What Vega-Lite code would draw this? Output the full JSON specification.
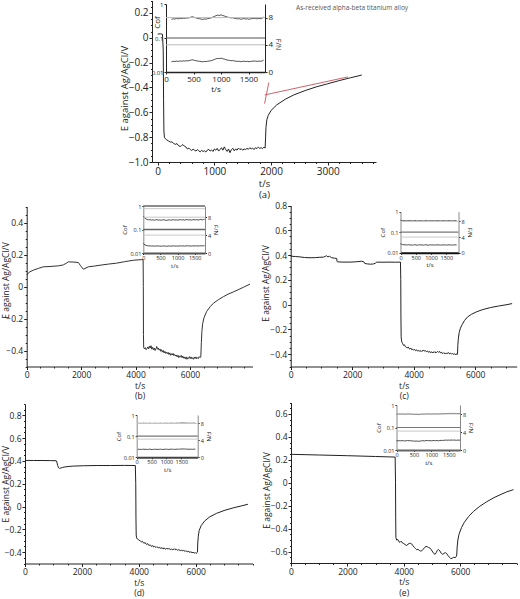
{
"$schema": "https://vega.github.io/schema/vega-lite/v6.json",
"width": 520, "height": 599, "autosize": "none", "padding": 0, "background": "white",
"config": {"view": {"stroke": null}, "font": "Open Sans",
 "axis": {"grid": false, "labelFlush": false, "labelOverlap": false, "labelBound": false, "labelFont": "Open Sans", "titleFont": "Open Sans", "labelColor": "#222", "titleColor": "#222", "domainColor": "#222", "tickColor": "#222", "titleFontWeight": "normal", "tickSize": 3, "labelPadding": 1, "titlePadding": 2, "titleLineHeight": 10.5, "labelFontSize": 8.5, "titleFontSize": 8.5}},
"datasets": {
"a": [{"t":0,"E":0.03},{"t":50,"E":0.032},{"t":85,"E":0.028},{"t":98,"E":-0.1},{"t":104,"E":-0.5},{"t":110,"E":-0.75},{"t":118,"E":-0.8},{"t":135,"E":-0.812},{"t":160,"E":-0.822},{"t":190,"E":-0.83},{"t":220,"E":-0.84},{"t":250,"E":-0.838},{"t":280,"E":-0.85},{"t":310,"E":-0.858},{"t":340,"E":-0.852},{"t":370,"E":-0.87},{"t":400,"E":-0.875},{"t":420,"E":-0.868},{"t":445,"E":-0.86},{"t":470,"E":-0.872},{"t":500,"E":-0.88},{"t":525,"E":-0.895},{"t":550,"E":-0.888},{"t":575,"E":-0.9},{"t":600,"E":-0.907},{"t":625,"E":-0.897},{"t":650,"E":-0.905},{"t":675,"E":-0.912},{"t":700,"E":-0.9},{"t":725,"E":-0.91},{"t":750,"E":-0.918},{"t":775,"E":-0.906},{"t":800,"E":-0.915},{"t":825,"E":-0.91},{"t":850,"E":-0.92},{"t":875,"E":-0.905},{"t":900,"E":-0.898},{"t":925,"E":-0.912},{"t":950,"E":-0.903},{"t":975,"E":-0.915},{"t":1000,"E":-0.895},{"t":1025,"E":-0.905},{"t":1050,"E":-0.89},{"t":1075,"E":-0.912},{"t":1100,"E":-0.9},{"t":1125,"E":-0.885},{"t":1150,"E":-0.905},{"t":1175,"E":-0.878},{"t":1200,"E":-0.9},{"t":1225,"E":-0.915},{"t":1250,"E":-0.895},{"t":1275,"E":-0.925},{"t":1300,"E":-0.9},{"t":1325,"E":-0.89},{"t":1350,"E":-0.91},{"t":1375,"E":-0.895},{"t":1400,"E":-0.905},{"t":1425,"E":-0.888},{"t":1450,"E":-0.9},{"t":1475,"E":-0.893},{"t":1500,"E":-0.905},{"t":1525,"E":-0.895},{"t":1550,"E":-0.9},{"t":1575,"E":-0.89},{"t":1600,"E":-0.898},{"t":1625,"E":-0.885},{"t":1650,"E":-0.895},{"t":1675,"E":-0.888},{"t":1700,"E":-0.9},{"t":1725,"E":-0.885},{"t":1750,"E":-0.892},{"t":1775,"E":-0.88},{"t":1800,"E":-0.89},{"t":1825,"E":-0.885},{"t":1850,"E":-0.892},{"t":1875,"E":-0.88},{"t":1895,"E":-0.888},{"t":1903,"E":-0.8},{"t":1910,"E":-0.72},{"t":1925,"E":-0.66},{"t":1950,"E":-0.625},{"t":2000,"E":-0.585},{"t":2100,"E":-0.54},{"t":2250,"E":-0.495},{"t":2400,"E":-0.46},{"t":2600,"E":-0.425},{"t":2800,"E":-0.395},{"t":3000,"E":-0.37},{"t":3200,"E":-0.345},{"t":3400,"E":-0.322},{"t":3600,"E":-0.3}],
"a_red": [{"seg":1,"t":1887,"E":-0.46},{"seg":1,"t":3357,"E":-0.315},{"seg":2,"t":1885,"E":-0.53},{"seg":2,"t":1960,"E":-0.36}],
"a_note": [{"t":2440,"E":0.24,"label":"As-received alpha-beta titanium alloy"}],
"ia_C": [{"t":100,"C":0.35},{"t":130,"C":0.37},{"t":160,"C":0.36},{"t":190,"C":0.375},{"t":220,"C":0.365},{"t":250,"C":0.38},{"t":280,"C":0.372},{"t":310,"C":0.385},{"t":340,"C":0.378},{"t":370,"C":0.39},{"t":400,"C":0.385},{"t":430,"C":0.4},{"t":460,"C":0.415},{"t":490,"C":0.42},{"t":520,"C":0.4},{"t":550,"C":0.39},{"t":580,"C":0.375},{"t":610,"C":0.368},{"t":640,"C":0.36},{"t":670,"C":0.352},{"t":700,"C":0.365},{"t":730,"C":0.358},{"t":760,"C":0.372},{"t":790,"C":0.38},{"t":820,"C":0.39},{"t":850,"C":0.41},{"t":880,"C":0.43},{"t":910,"C":0.455},{"t":940,"C":0.47},{"t":970,"C":0.462},{"t":1000,"C":0.478},{"t":1030,"C":0.46},{"t":1060,"C":0.445},{"t":1090,"C":0.425},{"t":1120,"C":0.41},{"t":1150,"C":0.402},{"t":1180,"C":0.39},{"t":1210,"C":0.395},{"t":1240,"C":0.38},{"t":1270,"C":0.375},{"t":1300,"C":0.365},{"t":1330,"C":0.37},{"t":1360,"C":0.358},{"t":1390,"C":0.365},{"t":1420,"C":0.372},{"t":1450,"C":0.36},{"t":1480,"C":0.368},{"t":1510,"C":0.355},{"t":1540,"C":0.365},{"t":1570,"C":0.372},{"t":1600,"C":0.38},{"t":1630,"C":0.372},{"t":1660,"C":0.368},{"t":1690,"C":0.375},{"t":1720,"C":0.37},{"t":1750,"C":0.385},{"t":1775,"C":0.41}],
"ia_F": [{"t":100,"F":1.5},{"t":130,"F":1.58},{"t":160,"F":1.54},{"t":190,"F":1.6},{"t":220,"F":1.56},{"t":250,"F":1.62},{"t":280,"F":1.58},{"t":310,"F":1.64},{"t":340,"F":1.6},{"t":370,"F":1.66},{"t":400,"F":1.63},{"t":430,"F":1.7},{"t":460,"F":1.76},{"t":490,"F":1.79},{"t":520,"F":1.7},{"t":550,"F":1.66},{"t":580,"F":1.6},{"t":610,"F":1.57},{"t":640,"F":1.54},{"t":670,"F":1.5},{"t":700,"F":1.56},{"t":730,"F":1.53},{"t":760,"F":1.59},{"t":790,"F":1.62},{"t":820,"F":1.66},{"t":850,"F":1.74},{"t":880,"F":1.83},{"t":910,"F":1.94},{"t":940,"F":2.0},{"t":970,"F":1.97},{"t":1000,"F":2.04},{"t":1030,"F":1.96},{"t":1060,"F":1.9},{"t":1090,"F":1.81},{"t":1120,"F":1.75},{"t":1150,"F":1.71},{"t":1180,"F":1.66},{"t":1210,"F":1.68},{"t":1240,"F":1.62},{"t":1270,"F":1.6},{"t":1300,"F":1.56},{"t":1330,"F":1.58},{"t":1360,"F":1.52},{"t":1390,"F":1.56},{"t":1420,"F":1.59},{"t":1450,"F":1.54},{"t":1480,"F":1.57},{"t":1510,"F":1.51},{"t":1540,"F":1.56},{"t":1570,"F":1.59},{"t":1600,"F":1.62},{"t":1630,"F":1.59},{"t":1660,"F":1.57},{"t":1690,"F":1.6},{"t":1720,"F":1.58},{"t":1750,"F":1.64},{"t":1775,"F":1.75}],
"ga_C": [{"g":1,"t":0,"C":0.1},{"g":1,"t":1800,"C":0.1}],
"ga_F": [{"g":1,"t":0,"F":4},{"g":1,"t":1800,"F":4},{"g":2,"t":0,"F":8},{"g":2,"t":1800,"F":8}],
"b": [{"t":0,"E":0.071},{"t":60,"E":0.085},{"t":121,"E":0.092},{"t":243,"E":0.102},{"t":426,"E":0.113},{"t":610,"E":0.123},{"t":857,"E":0.125},{"t":1000,"E":0.127},{"t":1162,"E":0.129},{"t":1346,"E":0.135},{"t":1450,"E":0.145},{"t":1530,"E":0.154},{"t":1700,"E":0.153},{"t":1897,"E":0.15},{"t":1980,"E":0.13},{"t":2081,"E":0.108},{"t":2265,"E":0.123},{"t":2500,"E":0.128},{"t":2695,"E":0.133},{"t":3000,"E":0.14},{"t":3309,"E":0.146},{"t":3600,"E":0.155},{"t":3919,"E":0.164},{"t":4228,"E":0.168},{"t":4280,"E":0.168},{"t":4287,"E":0.0},{"t":4292,"E":-0.3},{"t":4300,"E":-0.38},{"t":4330,"E":-0.39},{"t":4360,"E":-0.382},{"t":4390,"E":-0.395},{"t":4420,"E":-0.388},{"t":4450,"E":-0.378},{"t":4480,"E":-0.39},{"t":4510,"E":-0.372},{"t":4540,"E":-0.385},{"t":4570,"E":-0.37},{"t":4600,"E":-0.392},{"t":4630,"E":-0.38},{"t":4660,"E":-0.395},{"t":4690,"E":-0.385},{"t":4720,"E":-0.4},{"t":4750,"E":-0.39},{"t":4780,"E":-0.375},{"t":4810,"E":-0.392},{"t":4840,"E":-0.385},{"t":4870,"E":-0.398},{"t":4900,"E":-0.39},{"t":4930,"E":-0.405},{"t":4960,"E":-0.395},{"t":4990,"E":-0.41},{"t":5020,"E":-0.4},{"t":5050,"E":-0.415},{"t":5080,"E":-0.405},{"t":5110,"E":-0.418},{"t":5140,"E":-0.41},{"t":5170,"E":-0.42},{"t":5200,"E":-0.412},{"t":5230,"E":-0.425},{"t":5260,"E":-0.415},{"t":5290,"E":-0.43},{"t":5320,"E":-0.42},{"t":5350,"E":-0.428},{"t":5380,"E":-0.418},{"t":5410,"E":-0.432},{"t":5440,"E":-0.425},{"t":5470,"E":-0.435},{"t":5500,"E":-0.428},{"t":5530,"E":-0.44},{"t":5560,"E":-0.43},{"t":5590,"E":-0.445},{"t":5620,"E":-0.435},{"t":5650,"E":-0.44},{"t":5680,"E":-0.43},{"t":5710,"E":-0.445},{"t":5740,"E":-0.435},{"t":5770,"E":-0.448},{"t":5800,"E":-0.44},{"t":5830,"E":-0.452},{"t":5860,"E":-0.44},{"t":5890,"E":-0.455},{"t":5920,"E":-0.445},{"t":5950,"E":-0.45},{"t":5980,"E":-0.438},{"t":6010,"E":-0.45},{"t":6040,"E":-0.44},{"t":6070,"E":-0.452},{"t":6100,"E":-0.445},{"t":6130,"E":-0.455},{"t":6160,"E":-0.442},{"t":6190,"E":-0.45},{"t":6220,"E":-0.44},{"t":6250,"E":-0.452},{"t":6280,"E":-0.445},{"t":6310,"E":-0.45},{"t":6340,"E":-0.438},{"t":6370,"E":-0.445},{"t":6400,"E":-0.44},{"t":6420,"E":-0.35},{"t":6440,"E":-0.28},{"t":6470,"E":-0.23},{"t":6518,"E":-0.195},{"t":6618,"E":-0.155},{"t":6750,"E":-0.125},{"t":6860,"E":-0.105},{"t":7050,"E":-0.082},{"t":7228,"E":-0.064},{"t":7400,"E":-0.048},{"t":7596,"E":-0.034},{"t":7800,"E":-0.018},{"t":7963,"E":-0.005},{"t":8209,"E":0.015}],
"ib_C": [{"t":0,"C":0.37},{"t":20,"C":0.34},{"t":50,"C":0.3},{"t":80,"C":0.28},{"t":120,"C":0.265},{"t":160,"C":0.258},{"t":200,"C":0.262},{"t":240,"C":0.252},{"t":280,"C":0.258},{"t":320,"C":0.25},{"t":360,"C":0.256},{"t":400,"C":0.262},{"t":440,"C":0.25},{"t":480,"C":0.255},{"t":520,"C":0.248},{"t":560,"C":0.256},{"t":600,"C":0.26},{"t":640,"C":0.25},{"t":680,"C":0.245},{"t":720,"C":0.252},{"t":760,"C":0.258},{"t":800,"C":0.25},{"t":840,"C":0.255},{"t":880,"C":0.262},{"t":920,"C":0.252},{"t":960,"C":0.258},{"t":1000,"C":0.25},{"t":1040,"C":0.256},{"t":1080,"C":0.262},{"t":1120,"C":0.255},{"t":1160,"C":0.26},{"t":1200,"C":0.252},{"t":1240,"C":0.258},{"t":1280,"C":0.265},{"t":1320,"C":0.255},{"t":1360,"C":0.26},{"t":1400,"C":0.252},{"t":1440,"C":0.258},{"t":1480,"C":0.264},{"t":1520,"C":0.256},{"t":1560,"C":0.262},{"t":1600,"C":0.255},{"t":1640,"C":0.26},{"t":1680,"C":0.268},{"t":1720,"C":0.258},{"t":1760,"C":0.265},{"t":1790,"C":0.27}],
"ib_F": [{"t":0,"F":2.15},{"t":20,"F":1.98},{"t":50,"F":1.82},{"t":80,"F":1.7},{"t":120,"F":1.62},{"t":160,"F":1.58},{"t":200,"F":1.6},{"t":240,"F":1.54},{"t":280,"F":1.58},{"t":320,"F":1.52},{"t":360,"F":1.56},{"t":400,"F":1.6},{"t":440,"F":1.53},{"t":480,"F":1.56},{"t":520,"F":1.51},{"t":560,"F":1.56},{"t":600,"F":1.59},{"t":640,"F":1.53},{"t":680,"F":1.5},{"t":720,"F":1.54},{"t":760,"F":1.58},{"t":800,"F":1.53},{"t":840,"F":1.56},{"t":880,"F":1.6},{"t":920,"F":1.54},{"t":960,"F":1.58},{"t":1000,"F":1.53},{"t":1040,"F":1.57},{"t":1080,"F":1.6},{"t":1120,"F":1.56},{"t":1160,"F":1.59},{"t":1200,"F":1.54},{"t":1240,"F":1.58},{"t":1280,"F":1.62},{"t":1320,"F":1.56},{"t":1360,"F":1.59},{"t":1400,"F":1.54},{"t":1440,"F":1.58},{"t":1480,"F":1.61},{"t":1520,"F":1.56},{"t":1560,"F":1.6},{"t":1600,"F":1.56},{"t":1640,"F":1.59},{"t":1680,"F":1.63},{"t":1720,"F":1.58},{"t":1760,"F":1.62},{"t":1790,"F":1.64}],
"gb_C": [{"g":1,"t":0,"C":1},{"g":1,"t":1800,"C":1},{"g":2,"t":0,"C":0.1},{"g":2,"t":1800,"C":0.1}],
"gb_F": [{"g":1,"t":0,"F":4},{"g":1,"t":1800,"F":4},{"g":2,"t":0,"F":8},{"g":2,"t":1800,"F":8},{"g":3,"t":0,"F":9.9},{"g":3,"t":1800,"F":9.9}],
"c": [{"t":0,"E":0.391},{"t":150,"E":0.388},{"t":300,"E":0.385},{"t":450,"E":0.38},{"t":630,"E":0.378},{"t":800,"E":0.379},{"t":950,"E":0.382},{"t":1062,"E":0.383},{"t":1130,"E":0.39},{"t":1172,"E":0.394},{"t":1210,"E":0.385},{"t":1260,"E":0.39},{"t":1335,"E":0.378},{"t":1420,"E":0.375},{"t":1498,"E":0.372},{"t":1505,"E":0.35},{"t":1520,"E":0.345},{"t":1700,"E":0.343},{"t":1932,"E":0.343},{"t":2100,"E":0.345},{"t":2312,"E":0.35},{"t":2380,"E":0.345},{"t":2410,"E":0.332},{"t":2500,"E":0.328},{"t":2600,"E":0.326},{"t":2690,"E":0.328},{"t":2760,"E":0.335},{"t":2800,"E":0.343},{"t":3000,"E":0.342},{"t":3200,"E":0.343},{"t":3400,"E":0.342},{"t":3570,"E":0.343},{"t":3580,"E":0.2},{"t":3585,"E":-0.1},{"t":3592,"E":-0.26},{"t":3610,"E":-0.3},{"t":3640,"E":-0.315},{"t":3670,"E":-0.33},{"t":3700,"E":-0.325},{"t":3730,"E":-0.34},{"t":3760,"E":-0.345},{"t":3790,"E":-0.35},{"t":3820,"E":-0.342},{"t":3850,"E":-0.355},{"t":3880,"E":-0.36},{"t":3910,"E":-0.352},{"t":3940,"E":-0.365},{"t":3970,"E":-0.36},{"t":4000,"E":-0.368},{"t":4030,"E":-0.362},{"t":4060,"E":-0.372},{"t":4090,"E":-0.365},{"t":4120,"E":-0.375},{"t":4150,"E":-0.37},{"t":4180,"E":-0.378},{"t":4210,"E":-0.37},{"t":4240,"E":-0.38},{"t":4270,"E":-0.372},{"t":4300,"E":-0.375},{"t":4330,"E":-0.368},{"t":4360,"E":-0.378},{"t":4390,"E":-0.372},{"t":4420,"E":-0.38},{"t":4450,"E":-0.375},{"t":4480,"E":-0.385},{"t":4510,"E":-0.378},{"t":4540,"E":-0.388},{"t":4570,"E":-0.38},{"t":4600,"E":-0.39},{"t":4630,"E":-0.382},{"t":4660,"E":-0.388},{"t":4690,"E":-0.38},{"t":4720,"E":-0.39},{"t":4750,"E":-0.385},{"t":4780,"E":-0.378},{"t":4810,"E":-0.386},{"t":4840,"E":-0.378},{"t":4870,"E":-0.39},{"t":4900,"E":-0.385},{"t":4930,"E":-0.395},{"t":4960,"E":-0.388},{"t":4990,"E":-0.396},{"t":5020,"E":-0.39},{"t":5050,"E":-0.398},{"t":5080,"E":-0.39},{"t":5110,"E":-0.395},{"t":5140,"E":-0.388},{"t":5170,"E":-0.398},{"t":5200,"E":-0.392},{"t":5230,"E":-0.4},{"t":5260,"E":-0.395},{"t":5290,"E":-0.402},{"t":5320,"E":-0.395},{"t":5350,"E":-0.405},{"t":5380,"E":-0.398},{"t":5410,"E":-0.405},{"t":5425,"E":-0.4},{"t":5435,"E":-0.33},{"t":5450,"E":-0.28},{"t":5480,"E":-0.225},{"t":5520,"E":-0.19},{"t":5580,"E":-0.16},{"t":5650,"E":-0.13},{"t":5750,"E":-0.1},{"t":5880,"E":-0.078},{"t":6050,"E":-0.058},{"t":6250,"E":-0.04},{"t":6500,"E":-0.024},{"t":6750,"E":-0.012},{"t":7000,"E":-0.002},{"t":7200,"E":0.008}],
"ic_C": [{"t":0,"C":0.39},{"t":30,"C":0.375},{"t":70,"C":0.365},{"t":110,"C":0.36},{"t":150,"C":0.368},{"t":190,"C":0.356},{"t":230,"C":0.362},{"t":270,"C":0.37},{"t":310,"C":0.358},{"t":350,"C":0.364},{"t":390,"C":0.355},{"t":430,"C":0.362},{"t":470,"C":0.368},{"t":510,"C":0.358},{"t":550,"C":0.352},{"t":590,"C":0.36},{"t":630,"C":0.366},{"t":670,"C":0.356},{"t":710,"C":0.362},{"t":750,"C":0.354},{"t":790,"C":0.36},{"t":830,"C":0.367},{"t":870,"C":0.358},{"t":910,"C":0.352},{"t":950,"C":0.36},{"t":990,"C":0.365},{"t":1030,"C":0.356},{"t":1070,"C":0.362},{"t":1110,"C":0.355},{"t":1150,"C":0.36},{"t":1190,"C":0.366},{"t":1230,"C":0.358},{"t":1270,"C":0.362},{"t":1310,"C":0.354},{"t":1350,"C":0.36},{"t":1390,"C":0.364},{"t":1430,"C":0.356},{"t":1470,"C":0.362},{"t":1510,"C":0.355},{"t":1550,"C":0.36},{"t":1590,"C":0.366},{"t":1630,"C":0.358},{"t":1670,"C":0.362},{"t":1710,"C":0.355},{"t":1750,"C":0.36},{"t":1790,"C":0.364},{"t":1840,"C":0.36}],
"ic_F": [{"t":0,"F":2.3},{"t":30,"F":2.18},{"t":70,"F":2.08},{"t":110,"F":2.02},{"t":150,"F":2.05},{"t":190,"F":1.96},{"t":230,"F":2.0},{"t":270,"F":2.05},{"t":310,"F":1.96},{"t":350,"F":2.0},{"t":390,"F":1.94},{"t":430,"F":1.99},{"t":470,"F":2.04},{"t":510,"F":1.97},{"t":550,"F":1.93},{"t":590,"F":1.98},{"t":630,"F":2.03},{"t":670,"F":1.96},{"t":710,"F":2.0},{"t":750,"F":1.94},{"t":790,"F":1.98},{"t":830,"F":2.04},{"t":870,"F":1.97},{"t":910,"F":1.93},{"t":950,"F":1.98},{"t":990,"F":2.02},{"t":1030,"F":1.96},{"t":1070,"F":2.0},{"t":1110,"F":1.95},{"t":1150,"F":1.98},{"t":1190,"F":2.03},{"t":1230,"F":1.97},{"t":1270,"F":2.0},{"t":1310,"F":1.94},{"t":1350,"F":1.98},{"t":1390,"F":2.02},{"t":1430,"F":1.96},{"t":1470,"F":2.0},{"t":1510,"F":1.95},{"t":1550,"F":1.98},{"t":1590,"F":2.03},{"t":1630,"F":1.97},{"t":1670,"F":2.0},{"t":1710,"F":1.95},{"t":1750,"F":1.98},{"t":1790,"F":2.02},{"t":1840,"F":1.98}],
"gc_C": [{"g":1,"t":0,"C":0.1},{"g":1,"t":1900,"C":0.1}],
"gc_F": [{"g":1,"t":0,"F":4},{"g":1,"t":1900,"F":4},{"g":2,"t":0,"F":8},{"g":2,"t":1900,"F":8}],
"d": [{"t":0,"E":0.405},{"t":300,"E":0.404},{"t":600,"E":0.404},{"t":900,"E":0.403},{"t":1100,"E":0.402},{"t":1120,"E":0.39},{"t":1150,"E":0.36},{"t":1180,"E":0.34},{"t":1215,"E":0.335},{"t":1260,"E":0.338},{"t":1320,"E":0.343},{"t":1414,"E":0.348},{"t":1550,"E":0.352},{"t":1700,"E":0.355},{"t":2056,"E":0.358},{"t":2500,"E":0.36},{"t":3000,"E":0.36},{"t":3500,"E":0.361},{"t":3880,"E":0.36},{"t":3895,"E":0.2},{"t":3902,"E":-0.1},{"t":3910,"E":-0.25},{"t":3925,"E":-0.275},{"t":3950,"E":-0.285},{"t":3980,"E":-0.29},{"t":4010,"E":-0.295},{"t":4040,"E":-0.3},{"t":4070,"E":-0.305},{"t":4100,"E":-0.31},{"t":4130,"E":-0.305},{"t":4160,"E":-0.318},{"t":4190,"E":-0.322},{"t":4220,"E":-0.315},{"t":4250,"E":-0.328},{"t":4280,"E":-0.332},{"t":4310,"E":-0.325},{"t":4340,"E":-0.338},{"t":4370,"E":-0.342},{"t":4400,"E":-0.335},{"t":4430,"E":-0.345},{"t":4460,"E":-0.35},{"t":4490,"E":-0.342},{"t":4520,"E":-0.355},{"t":4550,"E":-0.35},{"t":4580,"E":-0.358},{"t":4610,"E":-0.352},{"t":4640,"E":-0.36},{"t":4670,"E":-0.355},{"t":4700,"E":-0.362},{"t":4730,"E":-0.358},{"t":4760,"E":-0.368},{"t":4790,"E":-0.36},{"t":4820,"E":-0.37},{"t":4850,"E":-0.362},{"t":4880,"E":-0.372},{"t":4910,"E":-0.365},{"t":4940,"E":-0.375},{"t":4970,"E":-0.368},{"t":5000,"E":-0.372},{"t":5030,"E":-0.366},{"t":5060,"E":-0.375},{"t":5090,"E":-0.37},{"t":5120,"E":-0.378},{"t":5150,"E":-0.372},{"t":5180,"E":-0.38},{"t":5210,"E":-0.374},{"t":5240,"E":-0.378},{"t":5270,"E":-0.37},{"t":5300,"E":-0.38},{"t":5330,"E":-0.376},{"t":5360,"E":-0.384},{"t":5390,"E":-0.378},{"t":5420,"E":-0.385},{"t":5450,"E":-0.38},{"t":5480,"E":-0.388},{"t":5510,"E":-0.382},{"t":5540,"E":-0.39},{"t":5570,"E":-0.385},{"t":5600,"E":-0.392},{"t":5630,"E":-0.386},{"t":5660,"E":-0.395},{"t":5690,"E":-0.39},{"t":5720,"E":-0.398},{"t":5750,"E":-0.392},{"t":5780,"E":-0.402},{"t":5810,"E":-0.395},{"t":5840,"E":-0.405},{"t":5870,"E":-0.398},{"t":5900,"E":-0.408},{"t":5930,"E":-0.4},{"t":5960,"E":-0.41},{"t":5990,"E":-0.404},{"t":6020,"E":-0.412},{"t":6050,"E":-0.405},{"t":6065,"E":-0.4},{"t":6075,"E":-0.32},{"t":6095,"E":-0.26},{"t":6125,"E":-0.21},{"t":6200,"E":-0.165},{"t":6325,"E":-0.125},{"t":6500,"E":-0.09},{"t":6735,"E":-0.06},{"t":7000,"E":-0.035},{"t":7320,"E":-0.012},{"t":7600,"E":0.005},{"t":7840,"E":0.02}],
"id_C": [{"t":40,"C":0.41},{"t":80,"C":0.4},{"t":120,"C":0.405},{"t":160,"C":0.398},{"t":200,"C":0.404},{"t":240,"C":0.41},{"t":280,"C":0.4},{"t":320,"C":0.406},{"t":360,"C":0.398},{"t":400,"C":0.404},{"t":440,"C":0.41},{"t":480,"C":0.401},{"t":520,"C":0.396},{"t":560,"C":0.403},{"t":600,"C":0.409},{"t":640,"C":0.4},{"t":680,"C":0.405},{"t":720,"C":0.398},{"t":760,"C":0.404},{"t":800,"C":0.41},{"t":840,"C":0.402},{"t":880,"C":0.397},{"t":920,"C":0.404},{"t":960,"C":0.41},{"t":1000,"C":0.402},{"t":1040,"C":0.407},{"t":1080,"C":0.399},{"t":1120,"C":0.405},{"t":1160,"C":0.411},{"t":1200,"C":0.403},{"t":1240,"C":0.408},{"t":1280,"C":0.4},{"t":1320,"C":0.406},{"t":1360,"C":0.412},{"t":1400,"C":0.404},{"t":1440,"C":0.41},{"t":1480,"C":0.418},{"t":1520,"C":0.41},{"t":1560,"C":0.42},{"t":1600,"C":0.412},{"t":1640,"C":0.418},{"t":1680,"C":0.41},{"t":1720,"C":0.405},{"t":1760,"C":0.41},{"t":1800,"C":0.404},{"t":1840,"C":0.41},{"t":1880,"C":0.406},{"t":1920,"C":0.412},{"t":1970,"C":0.408}],
"id_F": [{"t":40,"F":1.92},{"t":80,"F":1.86},{"t":120,"F":1.9},{"t":160,"F":1.85},{"t":200,"F":1.89},{"t":240,"F":1.93},{"t":280,"F":1.86},{"t":320,"F":1.9},{"t":360,"F":1.84},{"t":400,"F":1.89},{"t":440,"F":1.93},{"t":480,"F":1.87},{"t":520,"F":1.83},{"t":560,"F":1.88},{"t":600,"F":1.92},{"t":640,"F":1.86},{"t":680,"F":1.9},{"t":720,"F":1.85},{"t":760,"F":1.89},{"t":800,"F":1.93},{"t":840,"F":1.87},{"t":880,"F":1.84},{"t":920,"F":1.89},{"t":960,"F":1.93},{"t":1000,"F":1.87},{"t":1040,"F":1.91},{"t":1080,"F":1.85},{"t":1120,"F":1.9},{"t":1160,"F":1.94},{"t":1200,"F":1.88},{"t":1240,"F":1.92},{"t":1280,"F":1.86},{"t":1320,"F":1.9},{"t":1360,"F":1.95},{"t":1400,"F":1.89},{"t":1440,"F":1.93},{"t":1480,"F":1.98},{"t":1520,"F":1.93},{"t":1560,"F":1.99},{"t":1600,"F":1.94},{"t":1640,"F":1.98},{"t":1680,"F":1.93},{"t":1720,"F":1.89},{"t":1760,"F":1.93},{"t":1800,"F":1.88},{"t":1840,"F":1.92},{"t":1880,"F":1.89},{"t":1920,"F":1.93},{"t":1970,"F":1.91}],
"gd_C": [{"g":1,"t":0,"C":0.1},{"g":1,"t":2050,"C":0.1}],
"gd_F": [{"g":1,"t":0,"F":4.3},{"g":1,"t":2050,"F":4.3},{"g":2,"t":0,"F":8},{"g":2,"t":2050,"F":8}],
"e": [{"t":0,"E":0.248},{"t":1000,"E":0.242},{"t":2000,"E":0.236},{"t":3000,"E":0.229},{"t":3695,"E":0.224},{"t":3708,"E":0.0},{"t":3714,"E":-0.3},{"t":3722,"E":-0.48},{"t":3750,"E":-0.5},{"t":3790,"E":-0.495},{"t":3830,"E":-0.515},{"t":3869,"E":-0.52},{"t":3910,"E":-0.51},{"t":3950,"E":-0.525},{"t":4000,"E":-0.53},{"t":4050,"E":-0.54},{"t":4107,"E":-0.548},{"t":4150,"E":-0.535},{"t":4200,"E":-0.53},{"t":4250,"E":-0.528},{"t":4285,"E":-0.535},{"t":4330,"E":-0.55},{"t":4380,"E":-0.565},{"t":4420,"E":-0.575},{"t":4462,"E":-0.585},{"t":4500,"E":-0.58},{"t":4550,"E":-0.59},{"t":4600,"E":-0.596},{"t":4640,"E":-0.594},{"t":4690,"E":-0.58},{"t":4740,"E":-0.565},{"t":4790,"E":-0.555},{"t":4830,"E":-0.558},{"t":4880,"E":-0.565},{"t":4930,"E":-0.57},{"t":4980,"E":-0.585},{"t":5030,"E":-0.605},{"t":5080,"E":-0.62},{"t":5112,"E":-0.624},{"t":5150,"E":-0.61},{"t":5190,"E":-0.59},{"t":5230,"E":-0.582},{"t":5280,"E":-0.595},{"t":5330,"E":-0.615},{"t":5384,"E":-0.625},{"t":5430,"E":-0.615},{"t":5480,"E":-0.61},{"t":5526,"E":-0.618},{"t":5570,"E":-0.635},{"t":5620,"E":-0.65},{"t":5668,"E":-0.662},{"t":5720,"E":-0.658},{"t":5770,"E":-0.65},{"t":5822,"E":-0.654},{"t":5860,"E":-0.645},{"t":5880,"E":-0.63},{"t":5895,"E":-0.56},{"t":5920,"E":-0.5},{"t":5960,"E":-0.45},{"t":6050,"E":-0.39},{"t":6150,"E":-0.345},{"t":6300,"E":-0.295},{"t":6472,"E":-0.25},{"t":6700,"E":-0.205},{"t":6947,"E":-0.165},{"t":7200,"E":-0.13},{"t":7419,"E":-0.105},{"t":7650,"E":-0.08},{"t":7892,"E":-0.06}],
"ie_C": [{"t":0,"C":0.395},{"t":40,"C":0.39},{"t":80,"C":0.398},{"t":120,"C":0.392},{"t":160,"C":0.4},{"t":200,"C":0.394},{"t":240,"C":0.388},{"t":280,"C":0.396},{"t":320,"C":0.402},{"t":360,"C":0.394},{"t":400,"C":0.398},{"t":440,"C":0.39},{"t":480,"C":0.384},{"t":520,"C":0.378},{"t":560,"C":0.385},{"t":600,"C":0.38},{"t":640,"C":0.374},{"t":680,"C":0.382},{"t":720,"C":0.39},{"t":760,"C":0.396},{"t":800,"C":0.39},{"t":840,"C":0.398},{"t":880,"C":0.404},{"t":920,"C":0.396},{"t":960,"C":0.4},{"t":1000,"C":0.393},{"t":1040,"C":0.399},{"t":1080,"C":0.405},{"t":1120,"C":0.398},{"t":1160,"C":0.403},{"t":1200,"C":0.396},{"t":1240,"C":0.402},{"t":1280,"C":0.41},{"t":1320,"C":0.404},{"t":1360,"C":0.412},{"t":1400,"C":0.42},{"t":1440,"C":0.414},{"t":1480,"C":0.422},{"t":1520,"C":0.416},{"t":1560,"C":0.424},{"t":1600,"C":0.418},{"t":1640,"C":0.425},{"t":1680,"C":0.42},{"t":1720,"C":0.415},{"t":1760,"C":0.422},{"t":1790,"C":0.418},{"t":1820,"C":0.424}],
"ie_F": [{"t":0,"F":2.06},{"t":40,"F":2.03},{"t":80,"F":2.08},{"t":120,"F":2.04},{"t":160,"F":2.09},{"t":200,"F":2.05},{"t":240,"F":2.01},{"t":280,"F":2.06},{"t":320,"F":2.1},{"t":360,"F":2.05},{"t":400,"F":2.07},{"t":440,"F":2.03},{"t":480,"F":1.99},{"t":520,"F":1.96},{"t":560,"F":2.0},{"t":600,"F":1.97},{"t":640,"F":1.94},{"t":680,"F":1.98},{"t":720,"F":2.03},{"t":760,"F":2.07},{"t":800,"F":2.03},{"t":840,"F":2.08},{"t":880,"F":2.11},{"t":920,"F":2.06},{"t":960,"F":2.09},{"t":1000,"F":2.04},{"t":1040,"F":2.08},{"t":1080,"F":2.12},{"t":1120,"F":2.07},{"t":1160,"F":2.1},{"t":1200,"F":2.06},{"t":1240,"F":2.1},{"t":1280,"F":2.15},{"t":1320,"F":2.11},{"t":1360,"F":2.16},{"t":1400,"F":2.2},{"t":1440,"F":2.16},{"t":1480,"F":2.21},{"t":1520,"F":2.17},{"t":1560,"F":2.22},{"t":1600,"F":2.18},{"t":1640,"F":2.22},{"t":1680,"F":2.19},{"t":1720,"F":2.16},{"t":1760,"F":2.2},{"t":1790,"F":2.18},{"t":1820,"F":2.21}],
"ge_C": [{"g":1,"t":0,"C":0.1},{"g":1,"t":1820,"C":0.1}],
"ge_F": [{"g":1,"t":0,"F":4.2},{"g":1,"t":1820,"F":4.2},{"g":2,"t":0,"F":8},{"g":2,"t":1820,"F":8}]
},
"resolve": {"scale": {"x": "independent", "y": "independent"}, "axis": {"x": "independent", "y": "independent"}},
"layer": [
{"data": {"name": "a"}, "mark": {"type": "line", "opacity": 0},
 "encoding": {
  "x": {"field": "t", "type": "quantitative", "scale": {"domain": [-100, 3850], "range": [152, 376], "nice": false, "zero": false},
        "axis": {"orient": "bottom", "offset": -437, "values": [0,200,400,600,800,1000,1200,1400,1600,1800,2000,2200,2400,2600,2800,3000,3200,3400,3600,3800], "labels": false, "domain": false, "tickSize": 1.5, "title": null}},
  "y": {"field": "E", "type": "quantitative", "scale": {"domain": [-1, 0.3], "range": [162, 0.5], "nice": false, "zero": false},
        "axis": {"orient": "left", "offset": -152, "values": [-1,-0.95,-0.9,-0.85,-0.8,-0.75,-0.7,-0.65,-0.6,-0.55,-0.5,-0.45,-0.4,-0.35,-0.3,-0.25,-0.2,-0.15,-0.1,-0.05,0,0.05,0.1,0.15,0.2,0.25,0.3], "labels": false, "domain": false, "tickSize": 1.5, "title": null}}}},
{"data": {"name": "b"}, "mark": {"type": "line", "opacity": 0},
 "encoding": {
  "x": {"field": "t", "type": "quantitative", "scale": {"domain": [0, 8300], "range": [26.7, 252.5], "nice": false, "zero": false},
        "axis": {"orient": "bottom", "offset": -232.5, "values": [0,500,1000,1500,2000,2500,3000,3500,4000,4500,5000,5500,6000,6500,7000,7500,8000], "labels": false, "domain": false, "tickSize": 1.5, "title": null}},
  "y": {"field": "E", "type": "quantitative", "scale": {"domain": [-0.5, 0.5], "range": [366.5, 206.5], "nice": false, "zero": false},
        "axis": {"orient": "left", "offset": -26.7, "values": [-0.5,-0.45,-0.4,-0.35,-0.3,-0.25,-0.2,-0.15,-0.1,-0.05,0,0.05,0.1,0.15,0.2,0.25,0.3,0.35,0.4,0.45,0.5], "labels": false, "domain": false, "tickSize": 1.5, "title": null}}}},
{"data": {"name": "c"}, "mark": {"type": "line", "opacity": 0},
 "encoding": {
  "x": {"field": "t", "type": "quantitative", "scale": {"domain": [0, 7350], "range": [290.7, 516.7], "nice": false, "zero": false},
        "axis": {"orient": "bottom", "offset": -232.5, "values": [0,500,1000,1500,2000,2500,3000,3500,4000,4500,5000,5500,6000,6500,7000], "labels": false, "domain": false, "tickSize": 1.5, "title": null}},
  "y": {"field": "E", "type": "quantitative", "scale": {"domain": [-0.5, 0.8], "range": [366.5, 205.5], "nice": false, "zero": false},
        "axis": {"orient": "left", "offset": -290.7, "values": [-0.5,-0.45,-0.4,-0.35,-0.3,-0.25,-0.2,-0.15,-0.1,-0.05,0,0.05,0.1,0.15,0.2,0.25,0.3,0.35,0.4,0.45,0.5,0.55,0.6,0.65,0.7,0.75,0.8], "labels": false, "domain": false, "tickSize": 1.5, "title": null}}}},
{"data": {"name": "d"}, "mark": {"type": "line", "opacity": 0},
 "encoding": {
  "x": {"field": "t", "type": "quantitative", "scale": {"domain": [0, 8000], "range": [25, 252.5], "nice": false, "zero": false},
        "axis": {"orient": "bottom", "offset": -35.5, "values": [0,500,1000,1500,2000,2500,3000,3500,4000,4500,5000,5500,6000,6500,7000,7500,8000], "labels": false, "domain": false, "tickSize": 1.5, "title": null}},
  "y": {"field": "E", "type": "quantitative", "scale": {"domain": [-0.5, 0.9], "range": [563.5, 404], "nice": false, "zero": false},
        "axis": {"orient": "left", "offset": -25, "values": [-0.5,-0.45,-0.4,-0.35,-0.3,-0.25,-0.2,-0.15,-0.1,-0.05,0,0.05,0.1,0.15,0.2,0.25,0.3,0.35,0.4,0.45,0.5,0.55,0.6,0.65,0.7,0.75,0.8,0.85,0.9], "labels": false, "domain": false, "tickSize": 1.5, "title": null}}}},
{"data": {"name": "e"}, "mark": {"type": "line", "opacity": 0},
 "encoding": {
  "x": {"field": "t", "type": "quantitative", "scale": {"domain": [0, 8000], "range": [291, 516.5], "nice": false, "zero": false},
        "axis": {"orient": "bottom", "offset": -36, "values": [0,500,1000,1500,2000,2500,3000,3500,4000,4500,5000,5500,6000,6500,7000,7500,8000], "labels": false, "domain": false, "tickSize": 1.5, "title": null}},
  "y": {"field": "E", "type": "quantitative", "scale": {"domain": [-0.7, 0.7], "range": [563, 402.5], "nice": false, "zero": false},
        "axis": {"orient": "left", "offset": -291, "values": [-0.7,-0.65,-0.6,-0.55,-0.5,-0.45,-0.4,-0.35,-0.3,-0.25,-0.2,-0.15,-0.1,-0.05,0,0.05,0.1,0.15,0.2,0.25,0.3,0.35,0.4,0.45,0.5,0.55,0.6,0.65,0.7], "labels": false, "domain": false, "tickSize": 1.5, "title": null}}}},
{"layer": [
 {"data": {"name": "a"}, "mark": {"type": "line", "color": "#222", "strokeWidth": 1},
  "encoding": {
   "x": {"field": "t", "type": "quantitative", "scale": {"domain": [-100, 3850], "range": [152, 376], "nice": false, "zero": false},
         "axis": {"orient": "bottom", "offset": -437, "values": [0, 1000, 2000, 3000], "format": "d", "title": ["t/s", "(a)"], "labelFontSize": 10, "titleFontSize": 9.5, "titleLineHeight": 11.5, "tickSize": 3}},
   "y": {"field": "E", "type": "quantitative", "scale": {"domain": [-1, 0.3], "range": [162, 0.5], "nice": false, "zero": false},
         "axis": {"orient": "left", "offset": -152, "values": [-1, -0.8, -0.6, -0.4, -0.2, 0, 0.2], "labelExpr": "datum.value == 0 ? '0' : format(datum.value, '.1f')", "title": "E against Ag/AgCl/V", "labelFontSize": 10, "titleFontSize": 9.5, "tickSize": 3, "titleY": 88, "titleX": -23}}}},
 {"data": {"name": "a_red"}, "mark": {"type": "line", "color": "#c8505a", "strokeWidth": 0.9},
  "encoding": {"x": {"field": "t", "type": "quantitative"}, "y": {"field": "E", "type": "quantitative"}, "detail": {"field": "seg", "type": "nominal"}}},
 {"data": {"name": "a_note"}, "mark": {"type": "text", "align": "left", "baseline": "middle", "fontSize": 6.5, "color": "#555", "font": "Open Sans"},
  "encoding": {"x": {"field": "t", "type": "quantitative"}, "y": {"field": "E", "type": "quantitative"}, "text": {"field": "label"}}}
]},
{"resolve": {"scale": {"y": "independent"}, "axis": {"y": "independent"}},
 "layer": [
 {"layer": [
  {"data": {"name": "ga_C"}, "mark": {"type": "line", "color": "#555", "strokeWidth": 1.2},
   "encoding": {
    "x": {"field": "t", "type": "quantitative", "scale": {"domain": [0, 1800], "range": [166, 265], "nice": false, "zero": false},
          "axis": {"orient": "bottom", "offset": -527, "values": [0, 500, 1000, 1500], "format": "d", "title": "t/s", "labelFontSize": 8, "titleFontSize": 8, "tickSize": 2, "domainWidth": 1.5}},
    "y": {"field": "C", "type": "quantitative", "scale": {"type": "log", "domain": [0.01, 1], "range": [72, 4], "nice": false},
          "axis": {"orient": "left", "offset": -166, "values": [0.01, 0.1, 1], "format": "~g", "title": "Cof", "labelFontSize": 6, "titleFontSize": 8, "tickSize": 2, "titleX": -5, "titleY": 22}},
    "detail": {"field": "g", "type": "nominal"}}},
  {"data": {"name": "ia_C"}, "mark": {"type": "line", "color": "#222", "strokeWidth": 0.8},
   "encoding": {"x": {"field": "t", "type": "quantitative"}, "y": {"field": "C", "type": "quantitative"}}}
 ]},
 {"layer": [
  {"data": {"name": "ga_F"}, "mark": {"type": "line", "color": "#bbb", "strokeWidth": 1},
   "encoding": {
    "x": {"field": "t", "type": "quantitative"},
    "y": {"field": "F", "type": "quantitative", "scale": {"domain": [0, 10], "range": [72, 4], "nice": false, "zero": false},
          "axis": {"orient": "right", "offset": -255, "values": [0, 4, 8], "format": "d", "title": "F/N", "labelFontSize": 8, "titleFontSize": 7, "tickSize": 2, "titleY": 44}},
    "detail": {"field": "g", "type": "nominal"}}},
  {"data": {"name": "ia_F"}, "mark": {"type": "line", "color": "#222", "strokeWidth": 0.8},
   "encoding": {"x": {"field": "t", "type": "quantitative"}, "y": {"field": "F", "type": "quantitative"}}}
 ]}
]},
{"layer": [
 {"data": {"name": "b"}, "mark": {"type": "line", "color": "#333", "strokeWidth": 1},
  "encoding": {
   "x": {"field": "t", "type": "quantitative", "scale": {"domain": [0, 8300], "range": [26.7, 252.5], "nice": false, "zero": false},
         "axis": {"orient": "bottom", "offset": -232.5, "values": [0, 2000, 4000, 6000], "format": "d", "title": ["t/s", "(b)"], "tickSize": 3}},
   "y": {"field": "E", "type": "quantitative", "scale": {"domain": [-0.5, 0.5], "range": [366.5, 206.5], "nice": false, "zero": false},
         "axis": {"orient": "left", "offset": -26.7, "values": [-0.4, -0.2, 0, 0.2, 0.4], "labelExpr": "datum.value == 0 ? '0' : format(datum.value, '.1f')", "title": "E against Ag/AgCl/V", "tickSize": 3, "titleX": -16, "titleY": 280}}}}
]},
{"resolve": {"scale": {"y": "independent"}, "axis": {"y": "independent"}},
 "layer": [
 {"layer": [
  {"data": {"name": "gb_C"}, "mark": {"type": "line", "color": "#666", "strokeWidth": 1.3},
   "encoding": {
    "x": {"field": "t", "type": "quantitative", "scale": {"domain": [0, 1800], "range": [143.3, 205], "nice": false, "zero": false},
          "axis": {"orient": "bottom", "offset": -346, "values": [0, 500, 1000, 1500], "format": "d", "title": "t/s", "labelFontSize": 5.5, "titleFontSize": 6, "tickSize": 1.5, "domainWidth": 2, "domainColor": "#555", "titlePadding": 1}},
    "y": {"field": "C", "type": "quantitative", "scale": {"type": "log", "domain": [0.01, 1], "range": [253, 206], "nice": false},
          "axis": {"orient": "left", "offset": -143.3, "values": [0.01, 0.1, 1], "format": "~g", "title": "Cof", "labelFontSize": 5.5, "titleFontSize": 6, "tickSize": 1.5, "domainColor": "#888"}},
    "detail": {"field": "g", "type": "nominal"}}},
  {"data": {"name": "ib_C"}, "mark": {"type": "line", "color": "#222", "strokeWidth": 0.8},
   "encoding": {"x": {"field": "t", "type": "quantitative"}, "y": {"field": "C", "type": "quantitative"}}}
 ]},
 {"layer": [
  {"data": {"name": "gb_F"}, "mark": {"type": "line", "color": "#c8c8c8", "strokeWidth": 1},
   "encoding": {
    "x": {"field": "t", "type": "quantitative"},
    "y": {"field": "F", "type": "quantitative", "scale": {"domain": [0, 10.5], "range": [253, 206], "nice": false, "zero": false},
          "axis": {"orient": "right", "offset": -315, "values": [0, 4, 8], "format": "d", "title": "F/N", "labelFontSize": 5.5, "titleFontSize": 6, "tickSize": 1.5, "domainColor": "#888"}},
    "detail": {"field": "g", "type": "nominal"}}},
  {"data": {"name": "ib_F"}, "mark": {"type": "line", "color": "#222", "strokeWidth": 0.8},
   "encoding": {"x": {"field": "t", "type": "quantitative"}, "y": {"field": "F", "type": "quantitative"}}}
 ]}
]},
{"layer": [
 {"data": {"name": "c"}, "mark": {"type": "line", "color": "#222", "strokeWidth": 1},
  "encoding": {
   "x": {"field": "t", "type": "quantitative", "scale": {"domain": [0, 7350], "range": [290.7, 516.7], "nice": false, "zero": false},
         "axis": {"orient": "bottom", "offset": -232.5, "values": [0, 2000, 4000, 6000], "format": "d", "title": ["t/s", "(c)"], "tickSize": 3}},
   "y": {"field": "E", "type": "quantitative", "scale": {"domain": [-0.5, 0.8], "range": [366.5, 205.5], "nice": false, "zero": false},
         "axis": {"orient": "left", "offset": -290.7, "values": [-0.4, -0.2, 0, 0.2, 0.4, 0.6, 0.8], "labelExpr": "datum.value == 0 ? '0' : format(datum.value, '.1f')", "title": "E against Ag/AgCl/V", "tickSize": 3, "titleX": -20, "titleY": 283}}}}
]},
{"resolve": {"scale": {"y": "independent"}, "axis": {"y": "independent"}},
 "layer": [
 {"layer": [
  {"data": {"name": "gc_C"}, "mark": {"type": "line", "color": "#777", "strokeWidth": 1.2},
   "encoding": {
    "x": {"field": "t", "type": "quantitative", "scale": {"domain": [0, 1900], "range": [400.5, 458.5], "nice": false, "zero": false},
          "axis": {"orient": "bottom", "offset": -346.3, "values": [0, 500, 1000, 1500], "format": "d", "title": "t/s", "labelFontSize": 5.5, "titleFontSize": 6, "tickSize": 1.5, "domainWidth": 2, "domainColor": "#111", "titlePadding": 1}},
    "y": {"field": "C", "type": "quantitative", "scale": {"type": "log", "domain": [0.01, 1], "range": [252.7, 211.7], "nice": false},
          "axis": {"orient": "left", "offset": -400.5, "values": [0.01, 0.1, 1], "format": "~g", "title": "Cof", "labelFontSize": 5.5, "titleFontSize": 6, "tickSize": 1.5, "domainColor": "#888"}},
    "detail": {"field": "g", "type": "nominal"}}},
  {"data": {"name": "ic_C"}, "mark": {"type": "line", "color": "#222", "strokeWidth": 0.8},
   "encoding": {"x": {"field": "t", "type": "quantitative"}, "y": {"field": "C", "type": "quantitative"}}}
 ]},
 {"layer": [
  {"data": {"name": "gc_F"}, "mark": {"type": "line", "color": "#c8c8c8", "strokeWidth": 1},
   "encoding": {
    "x": {"field": "t", "type": "quantitative"},
    "y": {"field": "F", "type": "quantitative", "scale": {"domain": [0, 10.5], "range": [252.7, 211.7], "nice": false, "zero": false},
          "axis": {"orient": "right", "offset": -61.5, "values": [0, 4, 8], "format": "d", "title": "F/N", "labelFontSize": 5.5, "titleFontSize": 6, "tickSize": 1.5, "domainColor": "#888"}},
    "detail": {"field": "g", "type": "nominal"}}},
  {"data": {"name": "ic_F"}, "mark": {"type": "line", "color": "#222", "strokeWidth": 0.8},
   "encoding": {"x": {"field": "t", "type": "quantitative"}, "y": {"field": "F", "type": "quantitative"}}}
 ]}
]},
{"layer": [
 {"data": {"name": "d"}, "mark": {"type": "line", "color": "#222", "strokeWidth": 1},
  "encoding": {
   "x": {"field": "t", "type": "quantitative", "scale": {"domain": [0, 8000], "range": [25, 252.5], "nice": false, "zero": false},
         "axis": {"orient": "bottom", "offset": -35.5, "values": [0, 2000, 4000, 6000], "format": "d", "title": ["t/s", "(d)"], "tickSize": 3}},
   "y": {"field": "E", "type": "quantitative", "scale": {"domain": [-0.5, 0.9], "range": [563.5, 404], "nice": false, "zero": false},
         "axis": {"orient": "left", "offset": -25, "values": [-0.4, -0.2, 0, 0.2, 0.4, 0.6, 0.8], "labelExpr": "datum.value == 0 ? '0' : format(datum.value, '.1f')", "title": "E against Ag/AgCl/V", "tickSize": 3, "titleX": -15}}}}
]},
{"resolve": {"scale": {"y": "independent"}, "axis": {"y": "independent"}},
 "layer": [
 {"layer": [
  {"data": {"name": "gd_C"}, "mark": {"type": "line", "color": "#777", "strokeWidth": 1.2},
   "encoding": {
    "x": {"field": "t", "type": "quantitative", "scale": {"domain": [0, 2050], "range": [136.7, 197.7], "nice": false, "zero": false},
          "axis": {"orient": "bottom", "offset": -141.7, "values": [0, 500, 1000, 1500], "format": "d", "title": "t/s", "labelFontSize": 5.5, "titleFontSize": 6, "tickSize": 1.5, "domainWidth": 2, "domainColor": "#444", "titlePadding": 1}},
    "y": {"field": "C", "type": "quantitative", "scale": {"type": "log", "domain": [0.01, 1], "range": [457.3, 415], "nice": false},
          "axis": {"orient": "left", "offset": -136.7, "values": [0.01, 0.1, 1], "format": "~g", "title": "Cof", "labelFontSize": 5.5, "titleFontSize": 6, "tickSize": 1.5, "domainColor": "#888"}},
    "detail": {"field": "g", "type": "nominal"}}},
  {"data": {"name": "id_C"}, "mark": {"type": "line", "color": "#222", "strokeWidth": 0.8},
   "encoding": {"x": {"field": "t", "type": "quantitative"}, "y": {"field": "C", "type": "quantitative"}}}
 ]},
 {"layer": [
  {"data": {"name": "gd_F"}, "mark": {"type": "line", "color": "#c8c8c8", "strokeWidth": 1},
   "encoding": {
    "x": {"field": "t", "type": "quantitative"},
    "y": {"field": "F", "type": "quantitative", "scale": {"domain": [0, 10], "range": [457.3, 415], "nice": false, "zero": false},
          "axis": {"orient": "right", "offset": -322.3, "values": [0, 4, 8], "format": "d", "title": "F/N", "labelFontSize": 5.5, "titleFontSize": 6, "tickSize": 1.5, "domainColor": "#888"}},
    "detail": {"field": "g", "type": "nominal"}}},
  {"data": {"name": "id_F"}, "mark": {"type": "line", "color": "#222", "strokeWidth": 0.8},
   "encoding": {"x": {"field": "t", "type": "quantitative"}, "y": {"field": "F", "type": "quantitative"}}}
 ]}
]},
{"layer": [
 {"data": {"name": "e"}, "mark": {"type": "line", "color": "#222", "strokeWidth": 1},
  "encoding": {
   "x": {"field": "t", "type": "quantitative", "scale": {"domain": [0, 8000], "range": [291, 516.5], "nice": false, "zero": false},
         "axis": {"orient": "bottom", "offset": -36, "values": [0, 2000, 4000, 6000], "format": "d", "title": ["t/s", "(e)"], "tickSize": 3}},
   "y": {"field": "E", "type": "quantitative", "scale": {"domain": [-0.7, 0.7], "range": [563, 402.5], "nice": false, "zero": false},
         "axis": {"orient": "left", "offset": -291, "values": [-0.6, -0.4, -0.2, 0, 0.2, 0.4, 0.6], "labelExpr": "datum.value == 0 ? '0' : format(datum.value, '.1f')", "title": "E against Ag/AgCl/V", "tickSize": 3, "titleX": -20, "titleY": 490}}}}
]},
{"resolve": {"scale": {"y": "independent"}, "axis": {"y": "independent"}},
 "layer": [
 {"layer": [
  {"data": {"name": "ge_C"}, "mark": {"type": "line", "color": "#777", "strokeWidth": 1.2},
   "encoding": {
    "x": {"field": "t", "type": "quantitative", "scale": {"domain": [0, 1820], "range": [396.5, 460], "nice": false, "zero": false},
          "axis": {"orient": "bottom", "offset": -149, "values": [0, 500, 1000, 1500], "format": "d", "title": "t/s", "labelFontSize": 5.5, "titleFontSize": 6, "tickSize": 1.5, "domainWidth": 2, "domainColor": "#666", "titlePadding": 1}},
    "y": {"field": "C", "type": "quantitative", "scale": {"type": "log", "domain": [0.01, 1], "range": [450, 405], "nice": false},
          "axis": {"orient": "left", "offset": -396.5, "values": [0.01, 0.1, 1], "format": "~g", "title": "Cof", "labelFontSize": 5.5, "titleFontSize": 6, "tickSize": 1.5, "domainColor": "#888"}},
    "detail": {"field": "g", "type": "nominal"}}},
  {"data": {"name": "ie_C"}, "mark": {"type": "line", "color": "#222", "strokeWidth": 0.8},
   "encoding": {"x": {"field": "t", "type": "quantitative"}, "y": {"field": "C", "type": "quantitative"}}}
 ]},
 {"layer": [
  {"data": {"name": "ge_F"}, "mark": {"type": "line", "color": "#c8c8c8", "strokeWidth": 1},
   "encoding": {
    "x": {"field": "t", "type": "quantitative"},
    "y": {"field": "F", "type": "quantitative", "scale": {"domain": [0, 10], "range": [450, 405], "nice": false, "zero": false},
          "axis": {"orient": "right", "offset": -60, "values": [0, 4, 8], "format": "d", "title": "F/N", "labelFontSize": 5.5, "titleFontSize": 6, "tickSize": 1.5, "domainColor": "#888"}},
    "detail": {"field": "g", "type": "nominal"}}},
  {"data": {"name": "ie_F"}, "mark": {"type": "line", "color": "#222", "strokeWidth": 0.8},
   "encoding": {"x": {"field": "t", "type": "quantitative"}, "y": {"field": "F", "type": "quantitative"}}}
 ]}
]}
]
}
